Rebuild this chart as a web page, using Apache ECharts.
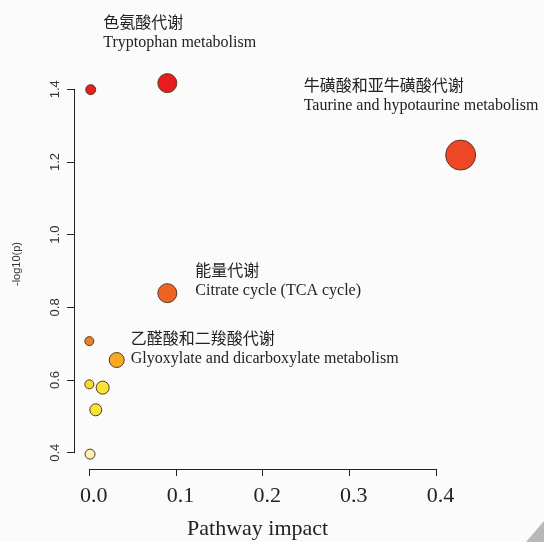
<!DOCTYPE html>
<html>
<head>
<meta charset="utf-8">
<script src="https://cdn.jsdelivr.net/npm/echarts@6/dist/echarts.min.js"></script>
<style>
html, body { margin: 0; padding: 0; background: #fbfbfb; }
#chart { width: 544px; height: 542px; }
</style>
</head>
<body>
<div id="chart"></div>
<script>
// pathway impact (x) and -log10(p) (y)
var impact = [0.0016, 0.090, 0.4285, 0.090, 0.000, 0.0316, 0.000, 0.0154, 0.0074, 0.0008];
var logp   = [1.399, 1.417, 1.219, 0.839, 0.707, 0.655, 0.588, 0.579, 0.518, 0.396];
var weight = [10, 19, 30, 19, 9, 15, 9, 13, 12, 10];
var nameCn = ['', '色氨酸代谢', '牛磺酸和亚牛磺酸代谢', '能量代谢', '', '乙醛酸和二羧酸代谢', '', '', '', ''];
var nameEn = ['', 'Tryptophan metabolism', 'Taurine and hypotaurine metabolism', 'Citrate cycle (TCA cycle)', '', 'Glyoxylate and dicarboxylate metabolism', '', '', '', ''];
var xTicks = [0, 0.4, 0.1];
var yTicks = [0.4, 1.4, 0.2];

var colors = ['#e81f1f', '#e81c1e', '#ee4725', '#ee6424', '#ea8222', '#f5aa1f', '#f3dc2c', '#f6e534', '#f6e532', '#fbefb6'];
var labelOffset = {1: [-64, -51], 2: [-157, -60], 3: [28, -13], 5: [14, -12]};

var chart = echarts.init(document.getElementById('chart'));

var points = impact.map(function (v, i) {
	var item = {
		value: [v, logp[i], weight[i]],
		itemStyle: { color: colors[i] }
	};
	if (nameCn[i]) {
		item.label = {
			show: true,
			position: 'inside',
			align: 'left',
			verticalAlign: 'middle',
			offset: labelOffset[i],
			formatter: '{cn|' + nameCn[i] + '}\n{en|' + nameEn[i] + '}',
			rich: {
				cn: { fontFamily: 'Noto Sans CJK SC', fontSize: 16, color: '#222', lineHeight: 21 },
				en: { fontFamily: 'Liberation Serif', fontSize: 16, color: '#222', lineHeight: 21 }
			}
		};
	}
	return item;
});

var option = {
	backgroundColor: '#fbfbfb',
	animation: false,
	grid: [
		{ left: 74, top: 68, width: 402, height: 401 },
		{ left: 89.3, top: 468, width: 346.7, height: 1 },
		{ left: 74, top: 89.3, width: 1, height: 363.4 }
	],
	xAxis: [
		{ gridIndex: 0, type: 'value', min: -0.0177, max: 0.4462, show: false },
		{
			gridIndex: 1, type: 'value', position: 'bottom',
			min: xTicks[0], max: xTicks[1], interval: xTicks[2],
			axisLine: { show: true, lineStyle: { color: '#222', width: 1 } },
			axisTick: { show: true, length: 7, lineStyle: { color: '#222' } },
			splitLine: { show: false },
			axisLabel: {
				margin: 16, fontFamily: 'Liberation Serif', fontSize: 22, color: '#222',
				padding: [0, 0, 0, 9],
				formatter: function (v) { return v.toFixed(1); }
			},
			name: 'Pathway impact', nameLocation: 'middle', nameGap: 49,
			nameTextStyle: { fontFamily: 'Liberation Serif', fontSize: 22, color: '#222', padding: [0, 10, 0, 0] }
		},
		{ gridIndex: 2, type: 'value', show: false }
	],
	yAxis: [
		{ gridIndex: 0, type: 'value', min: 0.3551, max: 1.4586, show: false },
		{ gridIndex: 1, type: 'value', show: false },
		{
			gridIndex: 2, type: 'value', position: 'left',
			min: yTicks[0], max: yTicks[1], interval: yTicks[2],
			axisLine: { show: true, lineStyle: { color: '#222', width: 1 } },
			axisTick: { show: true, length: 7, lineStyle: { color: '#222' } },
			splitLine: { show: false },
			axisLabel: {
				rotate: 90, margin: 12, fontFamily: 'Liberation Sans', fontSize: 13, color: '#333',
				formatter: function (v) { return v.toFixed(1); }
			},
			name: '-log10(p)', nameLocation: 'middle', nameGap: 52, nameRotate: 90,
			nameTextStyle: { fontFamily: 'Liberation Sans', fontSize: 11, color: '#333', padding: [0, 0, 0, 14] }
		}
	],
	series: [{
		type: 'scatter',
		xAxisIndex: 0,
		yAxisIndex: 0,
		symbol: 'circle',
		symbolSize: function (val) { return val[2]; },
		itemStyle: { borderColor: '#5a3a26', borderWidth: 1, opacity: 1 },
		data: points
	}],
	graphic: [{
		type: 'polygon',
		shape: { points: [[526, 542], [544, 521], [544, 542]] },
		style: { fill: '#b8b8b8' }
	}]
};

chart.setOption(option);
</script>
</body>
</html>
